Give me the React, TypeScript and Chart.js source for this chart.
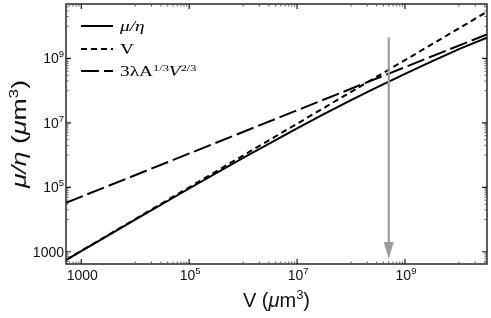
import { useEffect, useRef } from "react";
import { Chart, registerables } from "chart.js";

Chart.register(...registerables);

// Volume samples (µm³) and the growth-rate ratio µ/η along the solid curve
const volumes = [520, 1e3, 1e4, 1e5, 1e6, 1e7, 3e7, 1e8, 3e8, 1e9, 3e9, 1e10, 3.3e10];
const muOverEta = [553, 1.05e3, 9.9e3, 9.2e4, 8.2e5, 6.8e6, 1.8e7, 5.1e7, 1.26e8, 3.3e8, 7.8e8, 1.94e9, 4.4e9];

// Volume asymptote (short dashes)
const volumeLineX = [520, 3.3e10];
const volumeLineY = [560, 2.8e10];

// Surface asymptote 3λA^{1/3}V^{2/3} (long dashes)
const surfaceLineX = [520, 3.3e10];
const surfaceLineY = [3.3e4, 5.6e9];

// Grey marker arrow
const arrowX = 5.0e8;
const arrowTop = 4.5e9;
const arrowTip = 600;

// Axis ranges
const xMin = 521;
const xMax = 3.31e10;
const yMin = 417;
const yMax = 4.9e10;

// Labelled ticks ("^" marks an exponent)
const xTickValues = [1e3, 1e5, 1e7, 1e9];
const xTickLabels = ["1000", "10^5", "10^7", "10^9"];
const yTickValues = [1e3, 1e5, 1e7, 1e9];
const yTickLabels = ["1000", "10^5", "10^7", "10^9"];

const SANS = '"Liberation Sans", Arial, sans-serif';
const SERIF = '"Liberation Serif", "Times New Roman", serif';

type Run = { text: string; italic?: boolean; sup?: boolean };

function runsWidth(ctx: CanvasRenderingContext2D, runs: Run[], family: string, size: number, supSize: number) {
  let w = 0;
  for (const r of runs) {
    ctx.font = `${r.italic ? "italic " : ""}${r.sup ? supSize : size}px ${family}`;
    w += ctx.measureText(r.text).width;
  }
  return w;
}

// Draws a sequence of text runs (plain / italic / superscript) on one baseline,
// optionally stretched along the writing direction by sx.
function drawRuns(
  ctx: CanvasRenderingContext2D,
  runs: Run[],
  x: number,
  baseline: number,
  align: "left" | "center" | "right",
  family: string,
  size: number,
  supSize: number,
  raise: number,
  sx = 1
) {
  const w = runsWidth(ctx, runs, family, size, supSize) * sx;
  const start = align === "left" ? x : align === "center" ? x - w / 2 : x - w;
  ctx.save();
  ctx.translate(start, baseline);
  ctx.scale(sx, 1);
  ctx.textAlign = "left";
  ctx.textBaseline = "alphabetic";
  let cx = 0;
  for (const r of runs) {
    ctx.font = `${r.italic ? "italic " : ""}${r.sup ? supSize : size}px ${family}`;
    ctx.fillText(r.text, cx, r.sup ? -raise : 0);
    cx += ctx.measureText(r.text).width;
  }
  ctx.restore();
}

function tickRuns(label: string): Run[] {
  const [base, exp] = label.split("^");
  return exp ? [{ text: base }, { text: exp, sup: true }] : [{ text: base }];
}

function minorTicks(min: number, max: number) {
  const out: number[] = [];
  for (let k = 2; k <= 10; k += 2) {
    out.push(Math.pow(10, k));
    for (let m = 2; m <= 9; m++) out.push(m * Math.pow(10, k));
  }
  return out.filter((v) => v > min && v < max && !xTickValues.includes(v));
}

const decorPlugin = {
  id: "decor",
  afterDatasetsDraw(chart: any) {
    const { ctx, scales } = chart;
    const x = scales.x;
    const y = scales.y;
    const px = x.getPixelForValue(arrowX);
    const pTop = y.getPixelForValue(arrowTop);
    const pTip = y.getPixelForValue(arrowTip);
    const headLen = 17;
    const headHalf = 5;
    ctx.save();
    ctx.strokeStyle = "#9c9c9c";
    ctx.fillStyle = "#9c9c9c";
    ctx.lineWidth = 2.2;
    ctx.beginPath();
    ctx.moveTo(px, pTop);
    ctx.lineTo(px, pTip - headLen + 2);
    ctx.stroke();
    ctx.beginPath();
    ctx.moveTo(px - headHalf, pTip - headLen);
    ctx.lineTo(px + headHalf, pTip - headLen);
    ctx.lineTo(px, pTip);
    ctx.closePath();
    ctx.fill();
    ctx.restore();
  },
  afterDraw(chart: any) {
    const { ctx, chartArea: a, scales } = chart;
    const x = scales.x;
    const y = scales.y;
    ctx.save();

    // frame
    ctx.strokeStyle = "#1a1a1a";
    ctx.lineWidth = 1.4;
    ctx.strokeRect(a.left, a.top, a.right - a.left, a.bottom - a.top);

    // ticks on all four sides, pointing inward
    const drawX = (v: number, len: number) => {
      const p = x.getPixelForValue(v);
      ctx.beginPath();
      ctx.moveTo(p, a.bottom);
      ctx.lineTo(p, a.bottom - len);
      ctx.moveTo(p, a.top);
      ctx.lineTo(p, a.top + len);
      ctx.stroke();
    };
    const drawY = (v: number, len: number) => {
      const p = y.getPixelForValue(v);
      ctx.beginPath();
      ctx.moveTo(a.left, p);
      ctx.lineTo(a.left + len, p);
      ctx.moveTo(a.right, p);
      ctx.lineTo(a.right - len, p);
      ctx.stroke();
    };
    ctx.lineWidth = 1;
    ctx.strokeStyle = "#555";
    minorTicks(xMin, xMax).forEach((v) => drawX(v, 2.5));
    minorTicks(yMin, yMax).forEach((v) => drawY(v, 2.5));
    ctx.strokeStyle = "#1a1a1a";
    ctx.lineWidth = 1.2;
    xTickValues.forEach((v) => drawX(v, 5));
    yTickValues.forEach((v) => drawY(v, 5));

    // tick labels
    ctx.fillStyle = "#111";
    xTickValues.forEach((v, i) => {
      drawRuns(ctx, tickRuns(xTickLabels[i]), x.getPixelForValue(v) + 1, a.bottom + 16, "center", SANS, 14, 9.5, 6);
    });
    yTickValues.forEach((v, i) => {
      drawRuns(ctx, tickRuns(yTickLabels[i]), a.left - 2, y.getPixelForValue(v) + 5, "right", SANS, 14, 9.5, 6);
    });

    // axis titles
    drawRuns(
      ctx,
      [{ text: "V (" }, { text: "μ", italic: true }, { text: "m" }, { text: "3", sup: true }, { text: ")" }],
      (a.left + a.right) / 2,
      307,
      "center",
      SANS,
      20,
      13,
      8
    );
    ctx.save();
    ctx.translate(26, (a.top + a.bottom) / 2);
    ctx.rotate(-Math.PI / 2);
    drawRuns(
      ctx,
      [
        { text: "μ/η", italic: true },
        { text: " (" },
        { text: "μ", italic: true },
        { text: "m" },
        { text: "3", sup: true },
        { text: ")" },
      ],
      0,
      0,
      "center",
      SANS,
      20,
      13,
      8,
      1.33
    );
    ctx.restore();

    // legend
    const rows: { dash: number[]; runs: Run[]; y: number }[] = [
      { dash: [], runs: [{ text: "μ/η", italic: true }], y: 26 },
      { dash: [6, 4], runs: [{ text: "V" }], y: 49 },
      {
        dash: [18, 5],
        runs: [
          { text: "3λA" },
          { text: "1/3", sup: true },
          { text: "V", italic: true },
          { text: "2/3", sup: true },
        ],
        y: 71,
      },
    ];
    rows.forEach((r) => {
      ctx.strokeStyle = "#000";
      ctx.lineWidth = 2;
      ctx.setLineDash(r.dash);
      ctx.beginPath();
      ctx.moveTo(81, r.y);
      ctx.lineTo(113, r.y);
      ctx.stroke();
      ctx.setLineDash([]);
      ctx.fillStyle = "#000";
      drawRuns(ctx, r.runs, 120, r.y + 5, "left", SERIF, 14, 9, 5, 1.38);
    });

    ctx.restore();
  },
};

export default function App() {
  const canvasRef = useRef<HTMLCanvasElement | null>(null);

  useEffect(() => {
    document.body.style.margin = "0";
    const canvas = canvasRef.current;
    if (!canvas) return;
    const toPoints = (xs: number[], ys: number[]) => xs.map((v, i) => ({ x: v, y: ys[i] }));
    const chart = new Chart(canvas, {
      type: "scatter",
      data: {
        datasets: [
          {
            label: "3λA^{1/3}V^{2/3}",
            data: toPoints(surfaceLineX, surfaceLineY),
            showLine: true,
            borderColor: "#000",
            borderWidth: 2,
            borderDash: [18, 5],
            pointRadius: 0,
          },
          {
            label: "V",
            data: toPoints(volumeLineX, volumeLineY),
            showLine: true,
            borderColor: "#000",
            borderWidth: 2,
            borderDash: [6, 4],
            pointRadius: 0,
          },
          {
            label: "μ/η",
            data: toPoints(volumes, muOverEta),
            showLine: true,
            borderColor: "#000",
            borderWidth: 2,
            pointRadius: 0,
            tension: 0,
          },
        ],
      },
      options: {
        responsive: false,
        animation: false,
        layout: { padding: { top: 4, right: 4, left: 0, bottom: 0 } },
        plugins: { legend: { display: false }, tooltip: { enabled: false } },
        scales: {
          x: {
            type: "logarithmic",
            min: xMin,
            max: xMax,
            grid: { display: false },
            border: { display: false },
            ticks: { display: false },
            afterFit: (s: any) => {
              s.height = 54;
            },
          },
          y: {
            type: "logarithmic",
            min: yMin,
            max: yMax,
            grid: { display: false },
            border: { display: false },
            ticks: { display: false },
            afterFit: (s: any) => {
              s.width = 66;
            },
          },
        },
      },
      plugins: [decorPlugin],
    });
    return () => chart.destroy();
  }, []);

  return (
    <div style={{ position: "fixed", left: 0, top: 0, width: 491, height: 318, background: "#fff" }}>
      <canvas ref={canvasRef} width={491} height={318} />
    </div>
  );
}
